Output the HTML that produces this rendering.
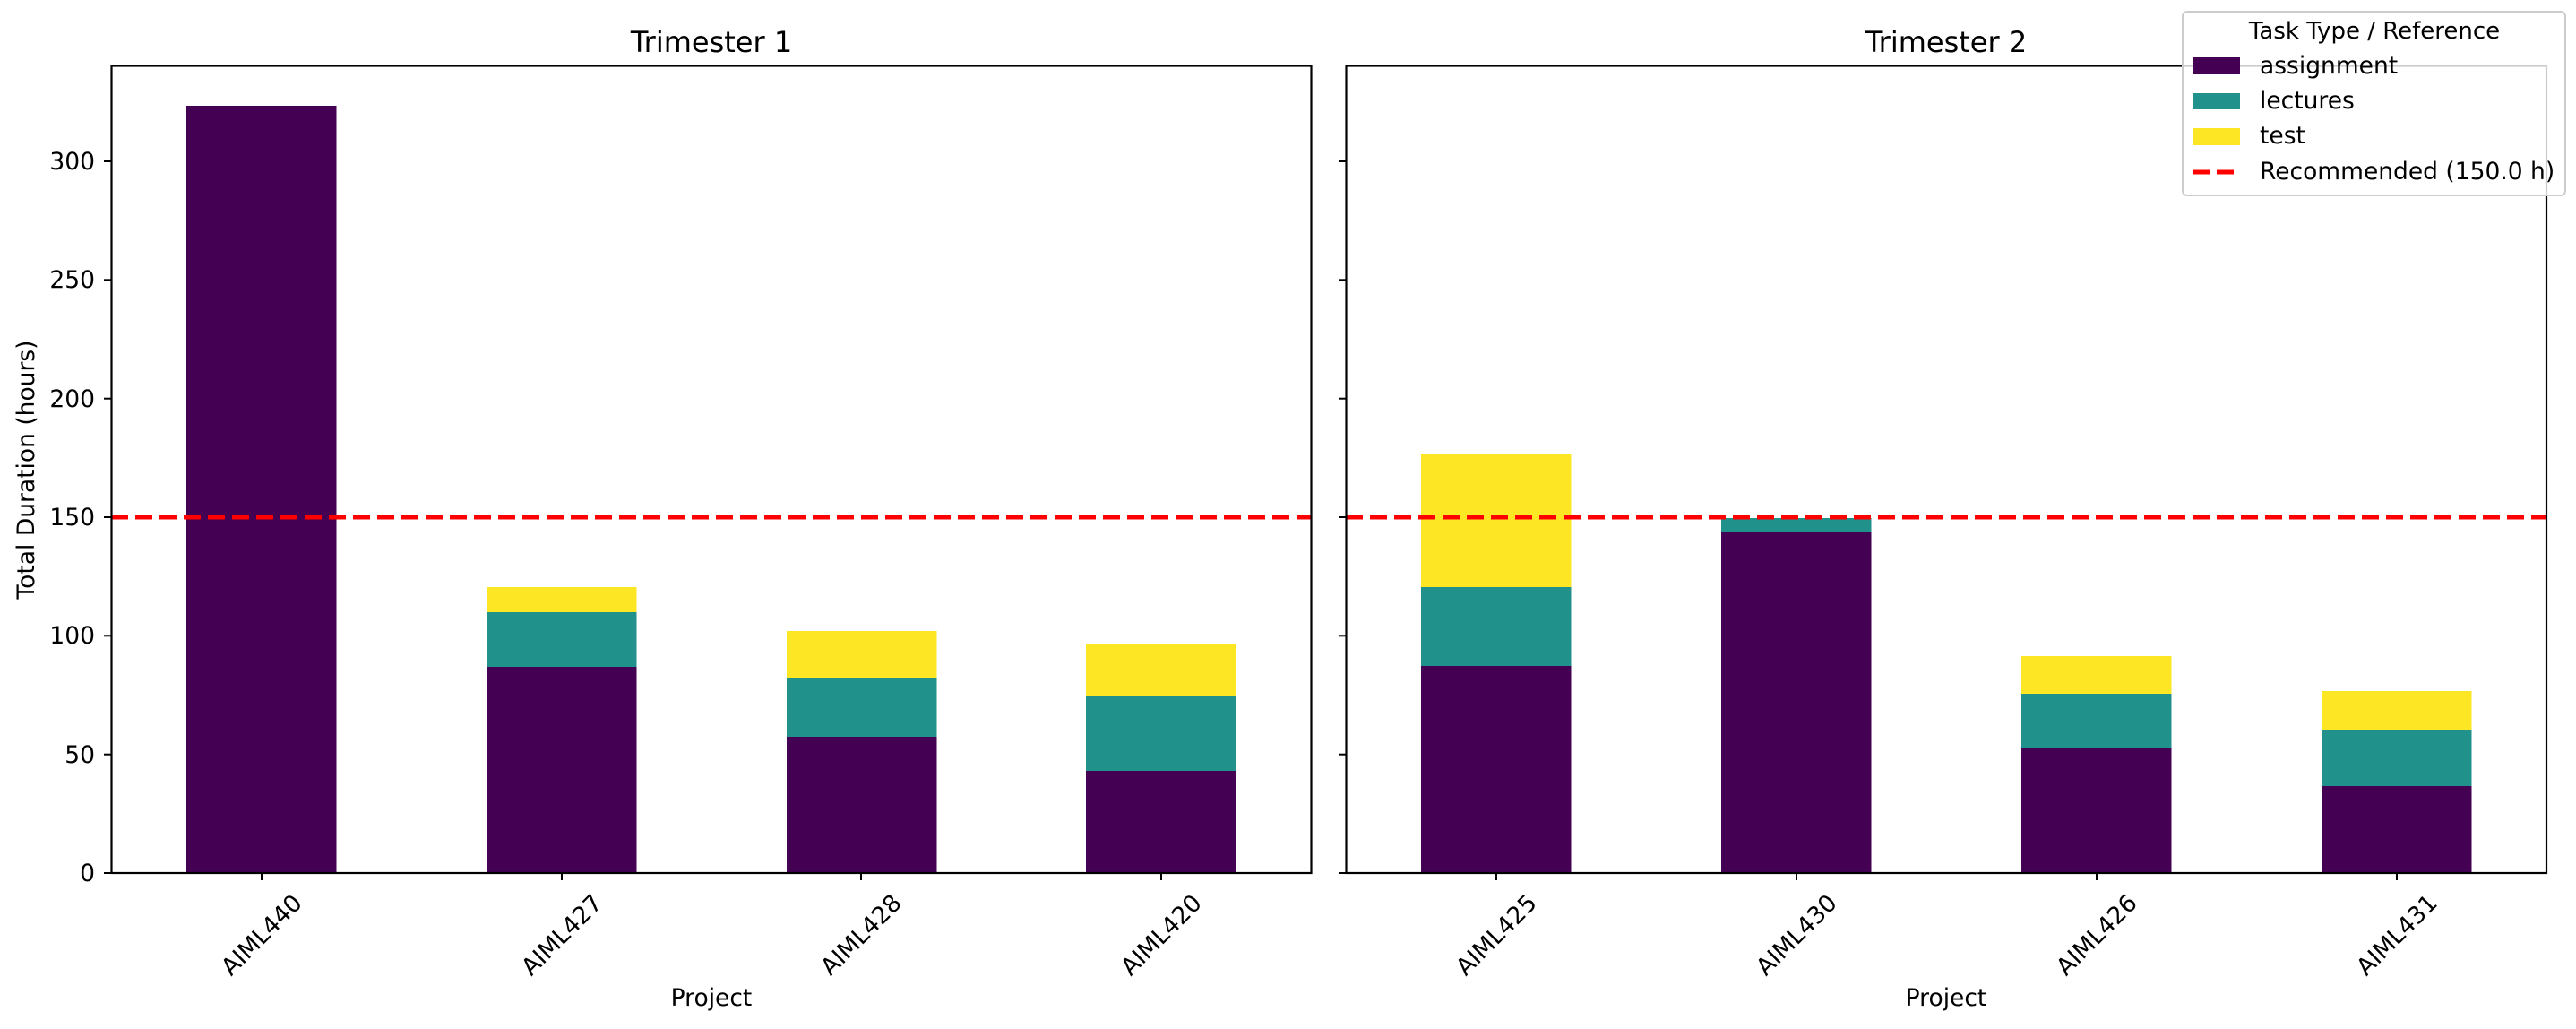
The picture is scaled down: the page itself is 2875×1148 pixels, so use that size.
<!DOCTYPE html>
<html><head><meta charset="utf-8"><style>html,body{margin:0;padding:0;background:#fff}svg{display:block}</style></head>
<body>
<svg xmlns="http://www.w3.org/2000/svg" width="2875" height="1148" viewBox="0 0 2875 1148" font-family="'DejaVu Sans','Liberation Sans',sans-serif">
<rect width="2875" height="1148" fill="#fff"/>
<g id="bars">
<rect x="208" y="118" width="167.5" height="856" fill="#440154"/>
<rect x="543" y="744" width="167.5" height="230" fill="#440154"/>
<rect x="543" y="683" width="167.5" height="61" fill="#21918c"/>
<rect x="543" y="655" width="167.5" height="28" fill="#fde725"/>
<rect x="878" y="822" width="167.5" height="152" fill="#440154"/>
<rect x="878" y="756" width="167.5" height="66" fill="#21918c"/>
<rect x="878" y="704" width="167.5" height="52" fill="#fde725"/>
<rect x="1212" y="860" width="167.5" height="114" fill="#440154"/>
<rect x="1212" y="776" width="167.5" height="84" fill="#21918c"/>
<rect x="1212" y="719" width="167.5" height="57" fill="#fde725"/>
<rect x="1586" y="743" width="167.5" height="231" fill="#440154"/>
<rect x="1586" y="655" width="167.5" height="88" fill="#21918c"/>
<rect x="1586" y="506" width="167.5" height="149" fill="#fde725"/>
<rect x="1921" y="593" width="167.5" height="381" fill="#440154"/>
<rect x="1921" y="578" width="167.5" height="15" fill="#21918c"/>
<rect x="2256" y="835" width="167.5" height="139" fill="#440154"/>
<rect x="2256" y="774" width="167.5" height="61" fill="#21918c"/>
<rect x="2256" y="732" width="167.5" height="42" fill="#fde725"/>
<rect x="2591" y="877" width="167.5" height="97" fill="#440154"/>
<rect x="2591" y="814" width="167.5" height="63" fill="#21918c"/>
<rect x="2591" y="771" width="167.5" height="43" fill="#fde725"/>
</g>
<line x1="124" y1="577" x2="1463" y2="577" stroke="#f00" stroke-width="5" stroke-dasharray="19 8"/>
<line x1="1502" y1="577" x2="2842" y2="577" stroke="#f00" stroke-width="5" stroke-dasharray="19 8"/>
<rect x="124.5" y="73.5" width="1339" height="900.5" fill="none" stroke="#000" stroke-width="2.2"/>
<rect x="1502.5" y="73.5" width="1339.5" height="900.5" fill="none" stroke="#000" stroke-width="2.2"/>
<g stroke="#000" stroke-width="2">
<line x1="116" y1="974" x2="124" y2="974"/><line x1="116" y1="841.7" x2="124" y2="841.7"/><line x1="116" y1="709.3" x2="124" y2="709.3"/><line x1="116" y1="577" x2="124" y2="577"/><line x1="116" y1="444.7" x2="124" y2="444.7"/><line x1="116" y1="312.3" x2="124" y2="312.3"/><line x1="116" y1="180" x2="124" y2="180"/>
<line x1="1494" y1="974" x2="1502" y2="974"/><line x1="1494" y1="841.7" x2="1502" y2="841.7"/><line x1="1494" y1="709.3" x2="1502" y2="709.3"/><line x1="1494" y1="577" x2="1502" y2="577"/><line x1="1494" y1="444.7" x2="1502" y2="444.7"/><line x1="1494" y1="312.3" x2="1502" y2="312.3"/><line x1="1494" y1="180" x2="1502" y2="180"/>
<line x1="292" y1="974" x2="292" y2="982"/><line x1="627" y1="974" x2="627" y2="982"/><line x1="961" y1="974" x2="961" y2="982"/><line x1="1296" y1="974" x2="1296" y2="982"/>
<line x1="1670" y1="974" x2="1670" y2="982"/><line x1="2005" y1="974" x2="2005" y2="982"/><line x1="2340" y1="974" x2="2340" y2="982"/><line x1="2675" y1="974" x2="2675" y2="982"/>
</g>
<g font-size="26.5" text-anchor="end">
<text x="106" y="983">0</text><text x="106" y="851">50</text><text x="106" y="718">100</text><text x="106" y="586">150</text><text x="106" y="454">200</text><text x="106" y="321">250</text><text x="106" y="189">300</text>
</g>
<g font-size="26.5" text-anchor="middle">
<text transform="translate(292,1043) rotate(-45)" dy="9">AIML440</text>
<text transform="translate(627,1043) rotate(-45)" dy="9">AIML427</text>
<text transform="translate(961,1043) rotate(-45)" dy="9">AIML428</text>
<text transform="translate(1296,1043) rotate(-45)" dy="9">AIML420</text>
<text transform="translate(1670,1043) rotate(-45)" dy="9">AIML425</text>
<text transform="translate(2005,1043) rotate(-45)" dy="9">AIML430</text>
<text transform="translate(2340,1043) rotate(-45)" dy="9">AIML426</text>
<text transform="translate(2675,1043) rotate(-45)" dy="9">AIML431</text>
<text x="794" y="1122">Project</text>
<text x="2172" y="1122">Project</text>
<text transform="translate(38,524) rotate(-90)">Total Duration (hours)</text>
<text x="794" y="58" font-size="32">Trimester 1</text>
<text x="2172" y="58" font-size="32">Trimester 2</text>
</g>
<rect x="2436" y="13" width="427" height="205" rx="5" fill="#fff" fill-opacity="0.8" stroke="#ccc" stroke-width="2"/>
<text x="2650" y="43" font-size="26" text-anchor="middle">Task Type / Reference</text>
<rect x="2447" y="64" width="53" height="19" fill="#440154"/>
<rect x="2447" y="104" width="53" height="18" fill="#21918c"/>
<rect x="2447" y="143" width="53" height="19" fill="#fde725"/>
<line x1="2447" y1="192" x2="2500" y2="192" stroke="#f00" stroke-width="5" stroke-dasharray="19 8"/>
<g font-size="26.5">
<text x="2522" y="82">assignment</text>
<text x="2522" y="121">lectures</text>
<text x="2522" y="160">test</text>
<text x="2522" y="200">Recommended (150.0 h)</text>
</g>
</svg>
</body></html>
